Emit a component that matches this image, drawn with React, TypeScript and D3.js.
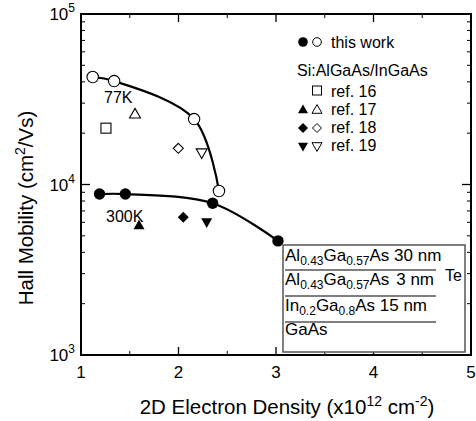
import React from "react";
import * as d3 from "d3";

// ---- data ----
const open77K: [number, number][] = [
  [1.12, 42700],
  [1.34, 40400],
  [2.16, 24200],
  [2.415, 9160],
];
const filled300K: [number, number][] = [
  [1.19, 8790],
  [1.455, 8790],
  [2.35, 7760],
  [3.02, 4670],
];
const ref16Open: [number, number][] = [[1.256, 21400]];
const ref17Open: [number, number][] = [[1.554, 25800]];
const ref17Filled: [number, number][] = [[1.595, 5730]];
const ref18Open: [number, number][] = [[1.998, 16300]];
const ref18Filled: [number, number][] = [[2.049, 6430]];
const ref19Open: [number, number][] = [[2.238, 15400]];
const ref19Filled: [number, number][] = [[2.289, 6030]];

const xTicks = [1, 2, 3, 4, 5];
const xMinor = [1.5, 2.5, 3.5, 4.5];
const yMajor = [1e3, 1e4, 1e5];
const yExp = ["3", "4", "5"];
const yMinor = [2e3, 3e3, 4e3, 5e3, 6e3, 7e3, 8e3, 9e3, 2e4, 3e4, 4e4, 5e4, 6e4, 7e4, 8e4, 9e4];

const legendRefs = ["ref. 16", "ref. 17", "ref. 18", "ref. 19"];

const FONT = "'Liberation Sans', Arial, Helvetica, sans-serif";

const L = 81, R = 471, T = 14, B = 355;

function tri(cx: number, cy: number, s: number, down = false) {
  const h = s * 0.87;
  if (!down)
    return `M${cx},${cy - h * 0.62}L${cx + s / 2},${cy + h * 0.38}L${cx - s / 2},${cy + h * 0.38}Z`;
  return `M${cx},${cy + h * 0.62}L${cx + s / 2},${cy - h * 0.38}L${cx - s / 2},${cy - h * 0.38}Z`;
}
function diamond(cx: number, cy: number, s: number) {
  return `M${cx},${cy - s / 2}L${cx + s / 2},${cy}L${cx},${cy + s / 2}L${cx - s / 2},${cy}Z`;
}

export default function App() {
  const x = d3.scaleLinear().domain([1, 5]).range([L, R]);
  const y = d3.scaleLog().domain([1e3, 1e5]).range([B, T]);

  const line = d3
    .line<[number, number]>()
    .x((d) => x(d[0]))
    .y((d) => y(d[1]))
    .curve(d3.curveCatmullRom.alpha(0.5));

  const sw = 1.1;

  return (
    <svg
      width={476}
      height={421}
      style={{ position: "absolute", left: 0, top: 0, background: "#fff" }}
      fontFamily={FONT}
    >
      <rect width={476} height={421} fill="#fff" />
      {/* frame */}
      <rect x={L} y={T} width={R - L} height={B - T} fill="none" stroke="#000" strokeWidth={2} />

      {/* x ticks */}
      {xTicks.slice(1, -1).map((t) => (
        <g key={"xt" + t}>
          <line x1={x(t)} x2={x(t)} y1={B} y2={B - 8} stroke="#000" strokeWidth={1.3} />
          <line x1={x(t)} x2={x(t)} y1={T} y2={T + 8} stroke="#000" strokeWidth={1.3} />
        </g>
      ))}
      {xMinor.map((t) => (
        <g key={"xm" + t}>
          <line x1={x(t)} x2={x(t)} y1={B} y2={B - 4} stroke="#000" strokeWidth={1} />
          <line x1={x(t)} x2={x(t)} y1={T} y2={T + 4} stroke="#000" strokeWidth={1} />
        </g>
      ))}
      {xTicks.map((t) => (
        <text key={"xl" + t} x={x(t)} y={378} fontSize={17} textAnchor="middle">
          {t}
        </text>
      ))}

      {/* y ticks */}
      {yMajor.slice(1, -1).map((t) => (
        <g key={"yt" + t}>
          <line x1={L} x2={L + 9} y1={y(t)} y2={y(t)} stroke="#000" strokeWidth={1.3} />
          <line x1={R} x2={R - 9} y1={y(t)} y2={y(t)} stroke="#000" strokeWidth={1.3} />
        </g>
      ))}
      {yMinor.map((t) => (
        <g key={"ym" + t}>
          <line x1={L} x2={L + 4} y1={y(t)} y2={y(t)} stroke="#000" strokeWidth={1} />
          <line x1={R} x2={R - 4} y1={y(t)} y2={y(t)} stroke="#000" strokeWidth={1} />
        </g>
      ))}
      {yMajor.map((t, i) => (
        <text key={"yl" + t} x={75} y={y(t) + 6} fontSize={17} textAnchor="end">
          10<tspan fontSize={12} dy={-8}>{yExp[i]}</tspan>
        </text>
      ))}

      {/* axis titles */}
      <text x={287} y={414} fontSize={20.5} textAnchor="middle">
        2D Electron Density (x10<tspan fontSize={14} dy={-8}>12</tspan>
        <tspan dy={8}> cm</tspan>
        <tspan fontSize={14} dy={-8}>-2</tspan>
        <tspan dy={8}>)</tspan>
      </text>
      <text
        transform={`translate(33,${208}) rotate(-90)`}
        fontSize={20.5}
        textAnchor="middle"
      >
        Hall Mobility (cm<tspan fontSize={14} dy={-8}>2</tspan>
        <tspan dy={8}>/Vs)</tspan>
      </text>

      {/* curves */}
      <path d={line(open77K) || ""} fill="none" stroke="#000" strokeWidth={2.2} />
      <path d={line(filled300K) || ""} fill="none" stroke="#000" strokeWidth={2.2} />

      {/* data markers */}
      {open77K.map((d, i) => (
        <circle key={"o" + i} cx={x(d[0])} cy={y(d[1])} r={5.7} fill="#fff" stroke="#000" strokeWidth={sw} />
      ))}
      {filled300K.map((d, i) => (
        <circle key={"f" + i} cx={x(d[0])} cy={y(d[1])} r={5.7} fill="#000" />
      ))}
      {ref16Open.map((d, i) => (
        <rect key={"r16" + i} x={x(d[0]) - 5} y={y(d[1]) - 5} width={10} height={10} fill="#fff" stroke="#000" strokeWidth={sw} />
      ))}
      {ref17Open.map((d, i) => (
        <path key={"r17o" + i} d={tri(x(d[0]), y(d[1]), 11)} fill="#fff" stroke="#000" strokeWidth={sw} />
      ))}
      {ref17Filled.map((d, i) => (
        <path key={"r17f" + i} d={tri(x(d[0]), y(d[1]), 11)} fill="#000" />
      ))}
      {ref18Open.map((d, i) => (
        <path key={"r18o" + i} d={diamond(x(d[0]), y(d[1]), 10)} fill="#fff" stroke="#000" strokeWidth={sw} />
      ))}
      {ref18Filled.map((d, i) => (
        <path key={"r18f" + i} d={diamond(x(d[0]), y(d[1]), 11)} fill="#000" />
      ))}
      {ref19Open.map((d, i) => (
        <path key={"r19o" + i} d={tri(x(d[0]), y(d[1]), 11, true)} fill="#fff" stroke="#000" strokeWidth={sw} />
      ))}
      {ref19Filled.map((d, i) => (
        <path key={"r19f" + i} d={tri(x(d[0]), y(d[1]), 11, true)} fill="#000" />
      ))}

      {/* temperature labels */}
      <text x={104} y={103} fontSize={16}>77K</text>
      <text x={106} y={222} fontSize={16}>300K</text>

      {/* legend */}
      <g fontSize={16}>
        <circle cx={303} cy={42} r={4.8} fill="#000" />
        <circle cx={317} cy={42} r={4.3} fill="#fff" stroke="#000" strokeWidth={1} />
        <text x={331} y={48}>this work</text>
        <text x={297} y={76}>Si:AlGaAs/InGaAs</text>
        <rect x={312.5} y={86} width={9} height={9} fill="#fff" stroke="#000" strokeWidth={1} />
        <path d={tri(303, 110, 10)} fill="#000" />
        <path d={tri(317, 110, 10)} fill="#fff" stroke="#000" strokeWidth={1} />
        <path d={diamond(303, 128, 10)} fill="#000" />
        <path d={diamond(317, 128, 9)} fill="#fff" stroke="#000" strokeWidth={1} />
        <path d={tri(303, 146, 10, true)} fill="#000" />
        <path d={tri(317, 146, 10, true)} fill="#fff" stroke="#000" strokeWidth={1} />
        {legendRefs.map((r, i) => (
          <text key={r} x={331} y={97 + i * 18}>{r}</text>
        ))}
      </g>

      {/* layer structure box */}
      <rect x={283} y={245} width={182} height={107} fill="#fff" stroke="#555" strokeWidth={1.5} />
      <g fontSize={17}>
        <text x={285} y={261}>
          Al<tspan fontSize={12} dy={4}>0.43</tspan>
          <tspan dy={-4}>Ga</tspan>
          <tspan fontSize={12} dy={4}>0.57</tspan>
          <tspan dy={-4}>As 30 nm</tspan>
        </text>
        <text x={285} y={285}>
          Al<tspan fontSize={12} dy={4}>0.43</tspan>
          <tspan dy={-4}>Ga</tspan>
          <tspan fontSize={12} dy={4}>0.57</tspan>
          <tspan dy={-4}>As</tspan>
        </text>
        <text x={434} y={285} textAnchor="end">3 nm</text>
        <text x={285} y={311}>
          In<tspan fontSize={12} dy={4}>0.2</tspan>
          <tspan dy={-4}>Ga</tspan>
          <tspan fontSize={12} dy={4}>0.8</tspan>
          <tspan dy={-4}>As</tspan>
        </text>
        <text x={427} y={311} textAnchor="end">15 nm</text>
        <text x={285} y={335}>GaAs</text>
        <text x={445} y={281} fontSize={16}>Te</text>
      </g>
      <line x1={285} x2={436} y1={270} y2={270} stroke="#000" strokeWidth={1} />
      <line x1={285} x2={436} y1={296} y2={296} stroke="#000" strokeWidth={1} />
      <line x1={285} x2={436} y1={322} y2={322} stroke="#000" strokeWidth={1} />
    </svg>
  );
}
